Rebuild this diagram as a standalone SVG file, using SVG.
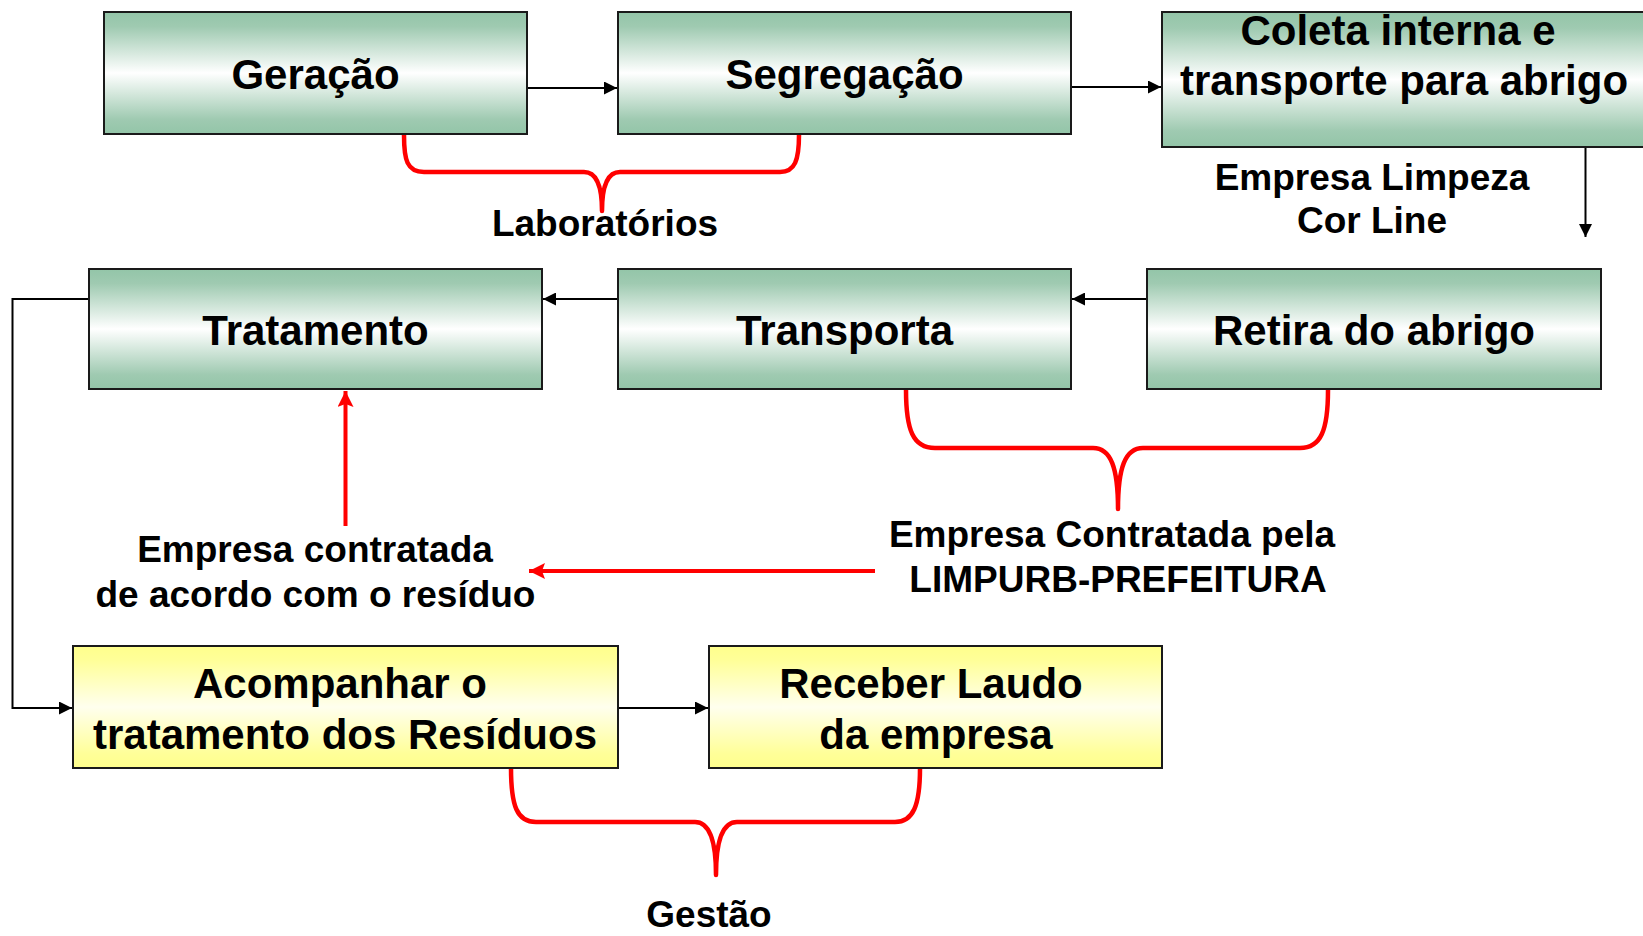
<svg xmlns="http://www.w3.org/2000/svg" width="1643" height="936" viewBox="0 0 1643 936">
  <style>
    .box { stroke: #1a1a1a; stroke-width: 2; }
    .green { fill: url(#gGreen); }
    .yellow { fill: url(#gYellow); }
    .bt { font-family: "Liberation Sans", Arial, sans-serif; font-weight: bold; font-size: 42px; fill: #000; text-anchor: middle; }
    .lb { font-family: "Liberation Sans", Arial, sans-serif; font-weight: bold; font-size: 37px; fill: #000; text-anchor: middle; }
    .blk { fill: none; stroke: #000; stroke-width: 2; }
    .brace { fill: none; stroke: #ff0000; stroke-width: 4.5; stroke-linecap: round; stroke-linejoin: round; }
    .red { fill: none; stroke: #ff0000; stroke-width: 4; }
  </style>
  <defs>
    <linearGradient id="gGreen" x1="0" y1="0" x2="0" y2="1">
      <stop offset="0" stop-color="#93c5a8"/>
      <stop offset="0.12" stop-color="#9fcab1"/>
      <stop offset="0.5" stop-color="#ffffff"/>
      <stop offset="0.88" stop-color="#9fcab1"/>
      <stop offset="1" stop-color="#93c5a8"/>
    </linearGradient>
    <linearGradient id="gYellow" x1="0" y1="0" x2="0" y2="1">
      <stop offset="0" stop-color="#ffff8c"/>
      <stop offset="0.12" stop-color="#ffff99"/>
      <stop offset="0.5" stop-color="#ffffee"/>
      <stop offset="0.88" stop-color="#ffff99"/>
      <stop offset="1" stop-color="#ffff8c"/>
    </linearGradient>
    <marker id="ab" viewBox="0 0 13 13" refX="13" refY="6.5" markerWidth="13" markerHeight="13" markerUnits="userSpaceOnUse" orient="auto">
      <path d="M0,0 L13,6.5 L0,13 Z" fill="#000"/>
    </marker>
    <marker id="ar" viewBox="0 0 16 16" refX="16" refY="8" markerWidth="16" markerHeight="16" markerUnits="userSpaceOnUse" orient="auto">
      <path d="M0,0 L16,8 L0,16 L3,8 Z" fill="#ff0000"/>
    </marker>
  </defs>
  <rect width="1643" height="936" fill="#ffffff"/>

  <g id="connectors">
    <line class="blk" x1="527" y1="88" x2="617" y2="88" marker-end="url(#ab)"/>
    <line class="blk" x1="1071" y1="87" x2="1161" y2="87" marker-end="url(#ab)"/>
    <line class="blk" x1="1585.5" y1="148" x2="1585.5" y2="237" marker-end="url(#ab)"/>
    <line class="blk" x1="1147" y1="299" x2="1072" y2="299" marker-end="url(#ab)"/>
    <line class="blk" x1="618" y1="299" x2="543" y2="299" marker-end="url(#ab)"/>
    <polyline class="blk" points="89,299 12.5,299 12.5,708 72,708" marker-end="url(#ab)"/>
    <line class="blk" x1="618" y1="708" x2="708" y2="708" marker-end="url(#ab)"/>
    <path class="brace" d="M404,135 C404,160 407,172 424,172 L584,172 C597,172 602,186 602,211 C602,186 607,172 620,172 L780,172 C795,172 799,160 799,135"/>
    <path class="brace" d="M906,390 C906,430 913,448 935,448 L1093,448 C1111,448 1118,468 1118,509 C1118,468 1125,448 1143,448 L1300,448 C1321,448 1328,430 1328,390"/>
    <path class="brace" d="M511,768 C511,806 517,822 536,822 L695,822 C710,822 716,842 716,875 C716,842 722,822 737,822 L895,822 C913,822 920,806 920,768"/>
    <line class="red" x1="345.5" y1="526" x2="345.5" y2="391" marker-end="url(#ar)"/>
    <line class="red" stroke-width="4.5" x1="875" y1="571" x2="529" y2="571" marker-end="url(#ar)"/>
  </g>

  <g id="n-geracao">
    <rect class="box green" x="104" y="12" width="423" height="122"/>
    <text class="bt" x="315.5" y="89">Geração</text>
  </g>
  <g id="n-segregacao">
    <rect class="box green" x="618" y="12" width="453" height="122"/>
    <text class="bt" x="844.5" y="89">Segregação</text>
  </g>
  <g id="n-coleta">
    <rect class="box green" x="1162" y="12" width="486" height="135"/>
    <text class="bt" x="1398" y="45">Coleta interna e</text>
    <text class="bt" x="1404" y="95">transporte para abrigo</text>
  </g>
  <g id="n-tratamento">
    <rect class="box green" x="89" y="269" width="453" height="120"/>
    <text class="bt" x="315.5" y="345">Tratamento</text>
  </g>
  <g id="n-transporta">
    <rect class="box green" x="618" y="269" width="453" height="120"/>
    <text class="bt" x="844.5" y="345">Transporta</text>
  </g>
  <g id="n-retira">
    <rect class="box green" x="1147" y="269" width="454" height="120"/>
    <text class="bt" x="1374" y="345">Retira do abrigo</text>
  </g>
  <g id="n-acompanhar">
    <rect class="box yellow" x="73" y="646" width="545" height="122"/>
    <text class="bt" x="340" y="698">Acompanhar o</text>
    <text class="bt" x="345" y="749">tratamento dos Resíduos</text>
  </g>
  <g id="n-receber">
    <rect class="box yellow" x="709" y="646" width="453" height="122"/>
    <text class="bt" x="931" y="698">Receber Laudo</text>
    <text class="bt" x="936" y="749">da empresa</text>
  </g>

  <g id="labels">
    <text class="lb" x="605" y="236">Laboratórios</text>
    <text class="lb" x="1372" y="190">Empresa Limpeza</text>
    <text class="lb" x="1372" y="233">Cor Line</text>
    <text class="lb" x="315" y="562">Empresa contratada</text>
    <text class="lb" x="315.5" y="607">de acordo com o resíduo</text>
    <text class="lb" x="1112" y="547">Empresa Contratada pela</text>
    <text class="lb" x="1118" y="592">LIMPURB-PREFEITURA</text>
    <text class="lb" x="709" y="927">Gestão</text>
  </g>
</svg>
